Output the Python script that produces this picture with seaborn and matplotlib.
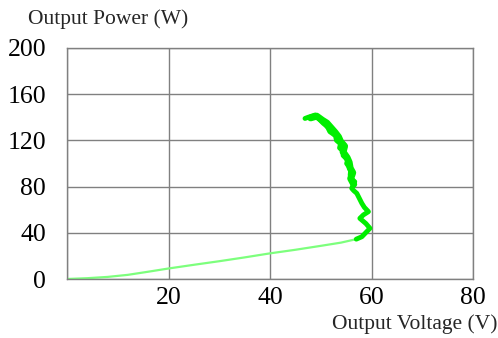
import matplotlib
matplotlib.use("Agg")
import matplotlib.pyplot as plt
import seaborn as sns
import pandas as pd

sns.set_theme(style="white")
plt.rcParams['font.family'] = ['Liberation Serif', 'DejaVu Serif']

# lower (start-up) branch
low_v = [0, 4, 8, 12, 16, 20, 25, 30, 35, 40, 45, 50, 54, 57]
low_p = [0, 0.7, 1.8, 3.6, 6.3, 9.1, 12.3, 15.4, 18.7, 22.2, 25.3, 28.7, 31.5, 34.5]

# upper (noisy) branch, trace 1 (down)
up_v = [57.0, 58.1, 59.7, 58.9, 57.7, 58.4, 59.4, 58.6, 58.1, 57.1, 56.5, 56.1, 56.7,
        56.0, 55.8, 55.9, 55.1, 55.3, 54.4, 54.6, 53.7, 53.9, 53.1, 52.9, 52.3, 51.8,
        51.4, 51.0, 50.5, 50.0, 49.5, 48.9, 48.2, 47.5, 46.9]
up_p = [34.5, 36.6, 43.9, 48.0, 52.5, 55.5, 58.3, 62.0, 65.5, 74.2, 76.5, 78.5, 84.2,
        87.0, 90.0, 95.0, 100.0, 103.0, 107.0, 110.0, 113.5, 117.0, 120.0, 124.0, 126.0, 127.5,
        131.0, 133.0, 134.8, 137.0, 139.5, 142.0, 141.0, 140.0, 139.0]

# upper branch, trace 2 (second pass)
up2_v = [48.0, 49.2, 50.3, 51.2, 52.0, 52.8, 53.5, 53.9, 54.7, 54.4, 55.2, 55.6, 55.8, 56.3, 55.9, 56.5]
up2_p = [139.5, 141.0, 137.5, 135.0, 131.0, 127.0, 123.0, 119.0, 115.0, 110.0, 105.0, 101.0, 96.0, 92.0, 87.0, 82.0]

df_low = pd.DataFrame({"V": low_v, "P": low_p})
df_up = pd.DataFrame({"V": up_v, "P": up_p})
df_up2 = pd.DataFrame({"V": up2_v, "P": up2_p})

fig = plt.figure(figsize=(4.98, 3.38), dpi=100)
ax = fig.add_axes([67/498, 59/338, 406/498, 231/338])

sns.lineplot(data=df_low, x="V", y="P", ax=ax, color="#7dff7d", lw=1.6, sort=False, estimator=None)
sns.lineplot(data=df_up, x="V", y="P", ax=ax, color="#00ee00", lw=3.5, sort=False, estimator=None)
sns.lineplot(data=df_up2, x="V", y="P", ax=ax, color="#00ee00", lw=5.0, sort=False, estimator=None)

ax.set_xlim(0, 80)
ax.set_ylim(0, 200)
ax.set_xticks([0, 20, 40, 60, 80])
ax.set_xticklabels(["", "20", "40", "60", "80"])
ax.set_yticks([0, 40, 80, 120, 160, 200])
ax.set_yticklabels(["0", "40", "80", "120", "160", "200"])
ax.grid(True, color="#808080", lw=1.0)
ax.set_axisbelow(True)
for s in ax.spines.values():
    s.set_color("#808080")
    s.set_linewidth(1.0)
ax.tick_params(axis="both", length=0, labelsize=18.5, colors="black")
ax.tick_params(axis="y", pad=15)
ax.tick_params(axis="x", pad=6)
ax.set_xlabel("")
ax.set_ylabel("")

fig.text(108/498, 1 - 19/338, "Output Power (W)", fontsize=15.5, ha="center", va="center")
fig.text(415/498, 1 - 324/338, "Output Voltage (V)", fontsize=15.5, ha="center", va="center")

fig.savefig("out.png", dpi=100)
